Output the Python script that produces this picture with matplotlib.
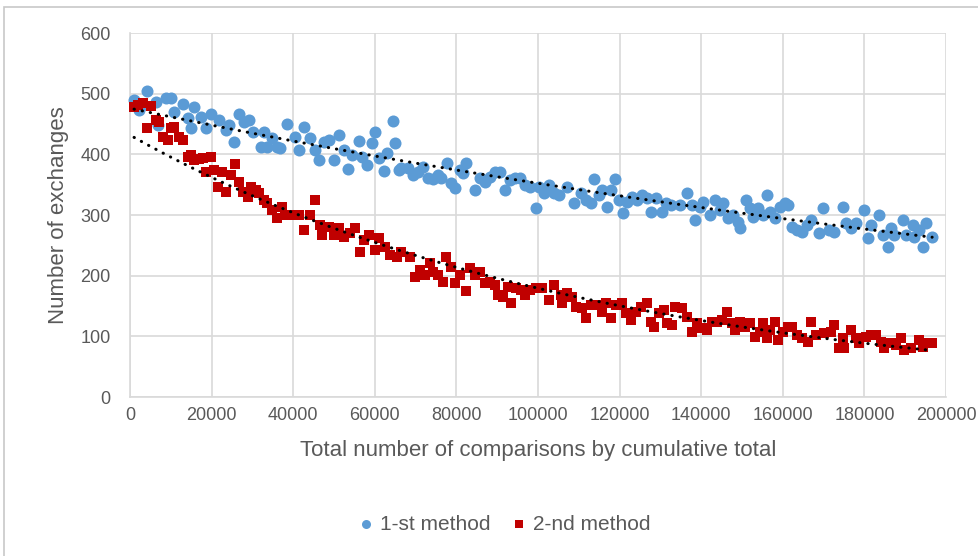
import numpy as np
import matplotlib
matplotlib.use("Agg")
import matplotlib.pyplot as plt
from matplotlib.patches import Rectangle

# 1-st method (blue circles)
x_first = [1000, 2200, 3000, 4200, 6400, 6900, 8800, 10000, 10800, 13000,
           14200, 15000, 15700, 17400, 18600, 19900, 21800, 23500, 24300, 25500,
           26700, 27900, 29200, 30100, 32100, 32800, 33600, 34800, 36000, 36800,
           38500, 40400, 41400, 42600, 44100, 45300, 46300, 47500, 48800, 50000,
           51200, 52400, 53400, 54400, 56100, 56900, 58100, 59300, 60000, 61000,
           62300, 63000, 64500, 65000, 65900, 66400, 68100, 69400, 70600, 71800,
           73000, 74300, 75500, 76200, 77700, 78700, 79600, 80900, 81600, 82400,
           84600, 85800, 87000, 88200, 89500, 90700, 91900, 93100, 94400, 95600,
           96800, 98000, 99500, 100200, 101500, 102700, 103900, 105100, 107100, 108800,
           110500, 111800, 113000, 113700, 115000, 115700, 116900, 117900, 118900, 119900,
           120800, 121800, 123000, 124300, 125500, 126700, 127700, 128900, 130400, 131400,
           132600, 134800, 136500, 137700, 138500, 139700, 140500, 142200, 143400, 144600,
           145300, 146600, 147800, 149000, 149500, 151000, 152000, 152700, 153900, 155100,
           156100, 156900, 158100, 159300, 160500, 161300, 162300, 163500, 164700, 165900,
           166900, 168900, 169900, 171300, 172500, 174800, 175500, 176700, 177900, 179900,
           180900, 181600, 183600, 184600, 185800, 186500, 187300, 189500, 190200, 191900,
           192200, 193400, 194400, 195100, 196600]
y_first = [489, 473, 482, 504, 486, 448, 493, 493, 470, 483,
           460, 443, 478, 461, 443, 466, 456, 440, 448, 420,
           466, 453, 456, 437, 412, 437, 412, 427, 412, 410,
           450, 428, 407, 445, 427, 407, 391, 420, 423, 391,
           432, 407, 376, 399, 422, 396, 382, 418, 437, 394,
           372, 402, 455, 418, 374, 377, 377, 366, 371, 379,
           361, 359, 366, 361, 386, 353, 344, 374, 369, 386,
           341, 361, 354, 363, 371, 371, 341, 358, 361, 361,
           349, 346, 311, 346, 336, 349, 336, 333, 346, 320,
           336, 325, 320, 359, 333, 341, 313, 341, 359, 325,
           303, 321, 330, 325, 333, 328, 305, 328, 305, 320,
           316, 316, 336, 316, 292, 313, 321, 300, 325, 308,
           320, 295, 300, 288, 278, 325, 311, 297, 311, 300,
           333, 305, 295, 313, 320, 316, 280, 275, 272, 283,
           292, 270, 311, 275, 272, 313, 287, 278, 287, 308,
           262, 283, 300, 267, 247, 278, 267, 292, 267, 283,
           264, 275, 247, 287, 264]

# 2-nd method (red squares)
x_second = [1000, 2000, 3200, 4200, 5100, 6400, 7100, 8100, 9300, 10000,
            10800, 12000, 13000, 14200, 15000, 15700, 16800, 17900, 18600, 19900,
            20600, 21600, 22500, 23500, 24800, 25700, 26700, 27700, 28900, 29700,
            30900, 31600, 32800, 33600, 34800, 36000, 37300, 38000, 39700, 41400,
            42600, 44100, 45300, 46600, 47100, 48800, 50000, 51200, 52400, 53900,
            55100, 56400, 57400, 58600, 60000, 61000, 62500, 63700, 65400, 66400,
            68600, 69900, 71100, 72300, 73500, 74300, 75500, 76700, 77500, 78700,
            79600, 80900, 82400, 83300, 84600, 85800, 87000, 88200, 89500, 90200,
            91400, 92600, 93400, 94600, 95800, 96800, 98000, 99500, 101000, 102700,
            103900, 105600, 105900, 107100, 108300, 109300, 110800, 111800, 113000, 114500,
            115700, 116700, 117900, 119100, 120600, 121600, 122800, 124000, 125200, 126700,
            127700, 128400, 129700, 130900, 131600, 132800, 133600, 135300, 136500, 137700,
            138900, 140200, 141400, 142600, 143900, 145100, 146300, 147500, 148300, 149500,
            150700, 152000, 153200, 154400, 155100, 156100, 156900, 158100, 158800, 160000,
            161300, 162300, 163500, 164700, 166200, 166900, 168100, 170100, 171800, 172500,
            173800, 174800, 175000, 176700, 177900, 178700, 180400, 181600, 182800, 184100,
            184800, 186500, 187700, 188900, 189700, 191400, 193400, 194400, 195100, 196600]
y_second = [478, 482, 485, 443, 480, 456, 453, 428, 424, 443,
            445, 428, 424, 396, 399, 391, 392, 394, 371, 396,
            374, 346, 371, 338, 366, 384, 354, 338, 330, 346,
            341, 336, 325, 320, 308, 295, 313, 300, 300, 300,
            275, 300, 325, 283, 267, 280, 267, 278, 264, 270,
            278, 239, 259, 267, 242, 262, 247, 234, 231, 239,
            231, 198, 209, 201, 221, 206, 201, 190, 231, 214,
            188, 201, 175, 213, 201, 206, 188, 190, 185, 168,
            165, 181, 155, 180, 176, 168, 176, 180, 180, 160,
            185, 168, 155, 171, 165, 148, 147, 130, 152, 152,
            140, 155, 130, 152, 155, 138, 127, 140, 148, 155,
            124, 115, 138, 143, 122, 119, 148, 147, 132, 107,
            122, 114, 110, 124, 124, 127, 140, 122, 110, 124,
            115, 122, 99, 107, 122, 97, 110, 124, 94, 107,
            115, 115, 102, 97, 91, 124, 102, 105, 107, 119,
            81, 97, 81, 110, 97, 89, 99, 102, 102, 91,
            81, 89, 86, 97, 77, 81, 94, 83, 89, 89]

x_ticks = [0, 20000, 40000, 60000, 80000, 100000, 120000, 140000, 160000, 180000, 200000]
y_ticks = [0, 100, 200, 300, 400, 500, 600]

blue = '#5B9BD5'
red = '#C00000'
text_gray = '#595959'
grid_gray = '#D9D9D9'

plt.rcParams['font.family'] = ['Liberation Sans', 'DejaVu Sans']

fig = plt.figure(figsize=(9.79, 5.56), dpi=100)
# chart-area frame (cropped on right/bottom like the screenshot)
fig.patches.append(Rectangle((4 / 979, -0.1), 1.2, (1 - 7 / 556) + 0.1,
                             transform=fig.transFigure, fill=False,
                             edgecolor='#C8C8C8', linewidth=1.2))

ax = fig.add_axes([130 / 979, 1 - 397 / 556, 816 / 979, 364 / 556])

ax.scatter(x_first, y_first, s=75, c=blue, marker='o', linewidths=0,
           label='1-st method', zorder=3, clip_on=False)
ax.scatter(x_second, y_second, s=58, c=red, marker='s', linewidths=0,
           label='2-nd method', zorder=3, clip_on=False)

# exponential trendlines (like Excel)
for xs, ys in [(x_first, y_first), (x_second, y_second)]:
    xs = np.array(xs, dtype=float)
    ys = np.array(ys, dtype=float)
    b, a = np.polyfit(xs, np.log(ys), 1)
    xt = np.linspace(xs.min(), xs.max(), 200)
    ax.plot(xt, np.exp(a + b * xt), color='black', lw=2.2,
            ls=(0, (0.1, 2.6)), dash_capstyle='round', zorder=4)

ax.set_xlim(0, 200000)
ax.set_ylim(0, 600)
ax.set_xticks(x_ticks)
ax.set_yticks(y_ticks)
ax.set_xticklabels([str(t) for t in x_ticks])
ax.grid(True, color=grid_gray, lw=1.2, zorder=0)
ax.set_axisbelow(True)
for s in ['top', 'right']:
    ax.spines[s].set_visible(False)
for s in ['left', 'bottom']:
    ax.spines[s].set_color(grid_gray)
    ax.spines[s].set_linewidth(1.2)
ax.tick_params(length=0, labelsize=13, colors=text_gray)
ax.tick_params(axis='x', pad=7)
ax.tick_params(axis='y', pad=14)

ax.set_xlabel('Total number of comparisons by cumulative total', fontsize=16,
              color=text_gray, labelpad=12)
ax.set_ylabel('Number of exchanges', fontsize=16, color=text_gray, labelpad=8)

leg = fig.legend(loc='center', bbox_to_anchor=(504 / 979, 1 - 524 / 556), ncol=2,
                 frameon=False, fontsize=15, handlelength=0.8, handletextpad=0.3,
                 columnspacing=0.95, markerscale=0.75, labelcolor=text_gray)

fig.savefig('out.png', dpi=100)
